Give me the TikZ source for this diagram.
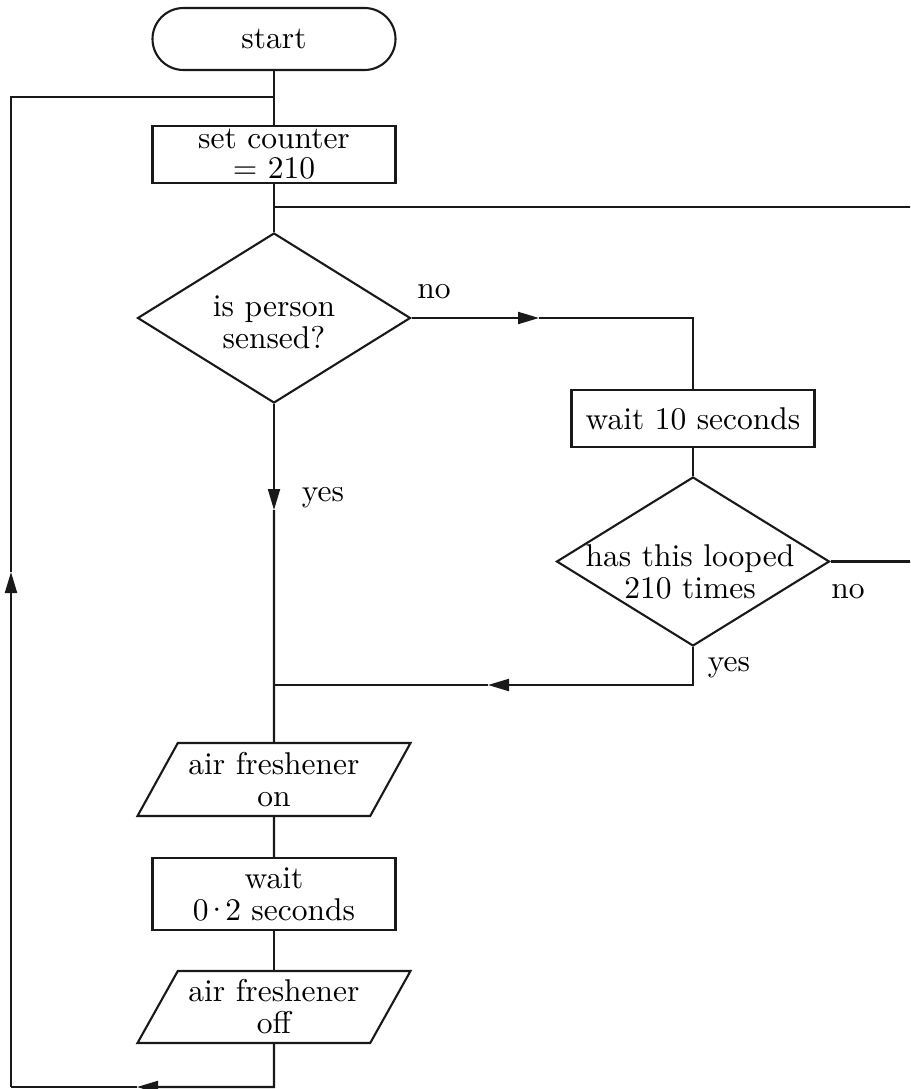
\documentclass[tikz,border=0pt]{standalone}
\usepackage{fontspec}
\setmainfont{lmroman10-regular.otf}
\usetikzlibrary{shapes.geometric,arrows.meta}
\begin{document}
\begin{tikzpicture}[x=1pt,y=-1pt,
  every node/.style={font=\fontsize{31.5}{32}\selectfont, text=black, inner sep=0pt},
  ln/.style={line width=2.1pt, draw=black!90},
  proc/.style={draw=black!90, line width=2.1pt, rectangle, minimum width=243pt, align=center},
  term/.style={proc, rounded corners=31pt, minimum height=62pt},
  dec/.style={draw=black!90, line width=2.1pt, diamond},
  io/.style={draw=black!90, line width=2.1pt, trapezium, trapezium left angle=56.7, trapezium right angle=123.3, trapezium stretches=true, minimum width=274pt, align=center},
  tip/.style={-{Triangle[length=21pt,width=12pt]}}
]
\useasboundingbox (0,0) rectangle (910,1089);
\clip (0,0) rectangle (910,1089);

% nodes
\node[term] (start) at (274,39) {start};
\node[proc, minimum height=57pt, font=\fontsize{31.5}{30}\selectfont] (setc) at (274,154.5) {set counter\\= 210};
\node[dec, minimum width=273pt, minimum height=170pt] (d1) at (274,318) {};
\node[align=center] (d1t) at (274,322) {is person\\sensed?};
\node[proc, minimum height=57pt] (w10) at (693,418.5) {wait 10 seconds};
\node[dec, minimum width=273pt, minimum height=169pt] (d2) at (693,561.5) {};
\node[align=center] (d2t) at (690,572) {has this looped\\210 times};
\node[io, minimum height=73pt] (afon) at (274,779.5) {air freshener\\on};
\node[proc, minimum height=72pt] (w02) at (274,894) {wait\\0\kern-4pt·\kern-4pt2 seconds};
\node[io, minimum height=72pt] (afoff) at (274,1007) {air freshener\\off};

% labels
\node (lno1) at (434,292) {no};
\node (lyes1) at (323,498) {yes};
\node (lno2) at (848,592) {no};
\node (lyes2) at (729,668) {yes};

% coordinates
\coordinate (j1) at (274,97);
\coordinate (j2) at (274,207);
\coordinate (r1) at (915,207);
\coordinate (a1) at (539,318);
\coordinate (c1) at (693,318);
\coordinate (r2) at (915,561.5);
\coordinate (c2) at (693,685);
\coordinate (a2) at (488,685);
\coordinate (j3) at (274,685);
\coordinate (a3) at (274,510);
\coordinate (c3) at (274,1087);
\coordinate (a4) at (137,1087);
\coordinate (c4) at (11,1087);
\coordinate (a5) at (11,572);
\coordinate (c5) at (11,97);

% connectors
\draw[ln] (start) -- (setc);
\draw[ln] (setc) -- (d1);
\draw[ln] (j2) -- (r1);
\draw[ln,tip] (d1.east) -- (a1);
\draw[ln] (a1) -- (c1) -- (w10);
\draw[ln] (w10) -- (d2);
\draw[ln] (d2.east) -- (r2);
\draw[ln,tip] (d2.south) -- (c2) -- (a2);
\draw[ln] (a2) -- (j3);
\draw[ln,tip] (d1.south) -- (a3);
\draw[ln] (a3) -- (afon);
\draw[ln] (afon) -- (w02);
\draw[ln] (w02) -- (afoff);
\draw[ln,tip] (afoff.south) -- (c3) -- (a4);
\draw[ln] (a4) -- (c4);
\draw[ln,tip] (c4) -- (a5);
\draw[ln] (a5) -- (c5) -- (j1);
\end{tikzpicture}
\end{document}
